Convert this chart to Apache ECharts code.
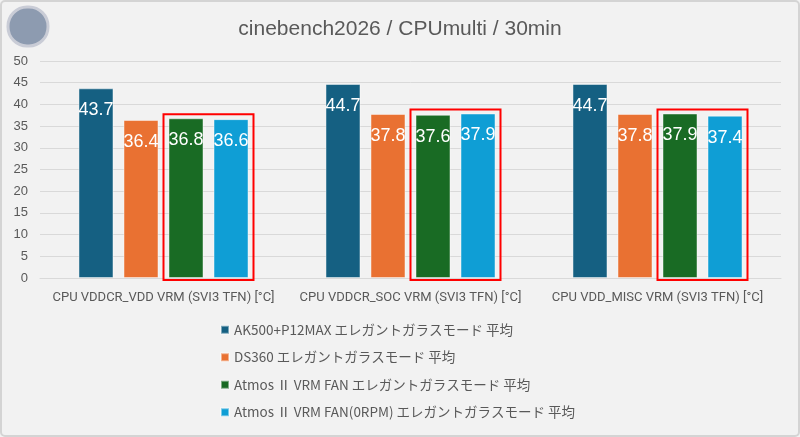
<!DOCTYPE html>
<html lang="ja">
<head>
    <meta charset="UTF-8">
    <title>cinebench2026 / CPUmulti / 30min</title>
    <style>
        body { margin: 0; padding: 0; background: #f2f2f2; }
        #main { width: 800px; height: 437px; }
    </style>
</head>
<body>
    <div id="main"></div>
    <script src="https://cdn.jsdelivr.net/npm/echarts@6/dist/echarts.min.js"></script>
    <script>
        var categories = ['CPU VDDCR_VDD VRM (SVI3 TFN) [°C]', 'CPU VDDCR_SOC VRM (SVI3 TFN) [°C]', 'CPU VDD_MISC VRM (SVI3 TFN) [°C]'];
        var seriesNames = [
            'AK500+P12MAX エレガントガラスモード 平均',
            'DS360 エレガントガラスモード 平均',
            'Atmos Ⅱ VRM FAN エレガントガラスモード 平均',
            'Atmos Ⅱ VRM FAN(0RPM) エレガントガラスモード 平均'
        ];
        var ak500 = [43.7, 44.7, 44.7];
        var ds360 = [36.4, 37.8, 37.8];
        var atmosFan = [36.8, 37.6, 37.9];
        var atmosFan0 = [36.6, 37.9, 37.4];
        var yTicks = [0, 50, 5]; // min, max, interval

        var colors = ['#156082', '#e97132', '#196b24', '#0f9ed5'];
        var textColor = '#595959';
        var font = '"Liberation Sans", Roboto, "Noto Sans CJK JP", sans-serif';

        var chart = echarts.init(document.getElementById('main'));

        function makeSeries(name, data) {
            return {
                name: name,
                type: 'bar',
                data: data,
                barWidth: 35,
                barGap: '28.6%',
                itemStyle: { borderColor: 'rgba(255,255,255,0.45)', borderWidth: 1 },
                label: {
                    show: true, position: 'insideTop', distance: 13,
                    color: '#ffffff', fontSize: 18, fontFamily: font
                }
            };
        }

        var option = {
            backgroundColor: '#f2f2f2',
            color: colors,
            animation: false,
            title: {
                text: 'cinebench2026 / CPUmulti / 30min',
                left: 'center', top: 14,
                textStyle: { color: textColor, fontSize: 21, fontWeight: 'normal', fontFamily: font }
            },
            legend: {
                orient: 'vertical', left: 220, top: 323, padding: 0,
                itemWidth: 8, itemHeight: 8, itemGap: 14, icon: 'rect',
                textStyle: { color: textColor, fontSize: 13.5, fontFamily: '"Liberation Sans Narrow", "Noto Sans CJK JP", sans-serif' },
                data: seriesNames
            },
            grid: { left: 40, right: 19, top: 61, bottom: 159 },
            xAxis: {
                type: 'category', data: categories,
                axisLine: { lineStyle: { color: '#d9d9d9' } },
                axisTick: { show: false },
                axisLabel: { color: textColor, fontSize: 13, margin: 13, interval: 0, fontFamily: '"Liberation Sans Narrow", Roboto, sans-serif' }
            },
            yAxis: {
                type: 'value', min: yTicks[0], max: yTicks[1], interval: yTicks[2],
                axisLine: { show: false }, axisTick: { show: false },
                splitLine: { lineStyle: { color: '#d9d9d9' } },
                axisLabel: { color: textColor, fontSize: 13, margin: 12, fontFamily: font }
            },
            series: [
                makeSeries(seriesNames[0], ak500),
                makeSeries(seriesNames[1], ds360),
                makeSeries(seriesNames[2], atmosFan),
                makeSeries(seriesNames[3], atmosFan0)
            ]
        };
        chart.setOption(option);

        // outer frame, small round logo, and red boxes round the two Atmos bars
        var graphics = [
            { type: 'rect', shape: { x: 1, y: 1, width: 798, height: 435, r: 4 }, style: { fill: 'none', stroke: '#d4d4d4', lineWidth: 2 }, z: 100 },
            { type: 'rect', shape: { x: 8, y: 7, width: 40, height: 39, r: 19 }, style: { fill: '#8d9bb0', stroke: '#c9ccd6', lineWidth: 3 }, z: 100 }
        ];
        for (var i = 0; i < categories.length; i++) {
            var pTop = chart.convertToPixel({ gridIndex: 0 }, [i, Math.max(atmosFan[i], atmosFan0[i])]);
            var pBot = chart.convertToPixel({ gridIndex: 0 }, [i, 0]);
            graphics.push({
                type: 'rect',
                shape: { x: pTop[0], y: pTop[1] - 4, width: 90, height: pBot[1] + 2 - (pTop[1] - 4) },
                style: { fill: 'none', stroke: '#ff0000', lineWidth: 2 },
                z: 100
            });
        }
        chart.setOption({ graphic: graphics });
    </script>
</body>
</html>
